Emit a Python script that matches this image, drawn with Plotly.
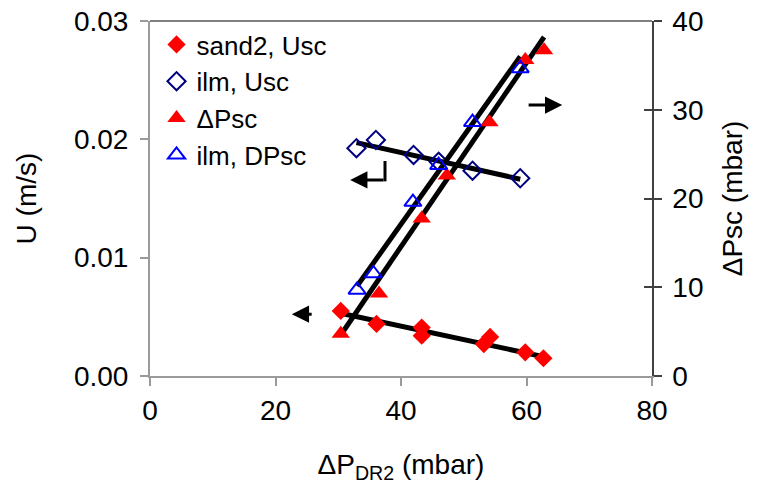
import plotly.graph_objects as go

# ---- data ----
sand_x = [30.4, 36.1, 43.3, 43.3, 53.2, 54.2, 59.8, 62.7]
sand_U = [0.0055, 0.0044, 0.0041, 0.0034, 0.0027, 0.0033, 0.0020, 0.0015]

ilmU_x = [32.9, 36.0, 42.0, 46.0, 51.4, 59.0]
ilmU_U = [0.01925, 0.01995, 0.01868, 0.0181, 0.01735, 0.01671]

dpsc_x = [30.4, 36.5, 43.3, 47.3, 54.1, 59.8, 62.8]
dpsc_P = [4.75, 9.3, 17.75, 22.6, 28.6, 35.6, 36.7]

ilmP_x = [33.0, 35.6, 41.9, 46.0, 51.4, 59.0]
ilmP_P = [9.7, 11.55, 19.6, 23.75, 28.6, 34.65]

# trendline end points
tr_sand_x = [30.4, 62.7]
tr_sand_U = [0.0053, 0.00163]
tr_ilmU_x = [32.9, 59.0]
tr_ilmU_U = [0.01972, 0.01663]
tr_dpsc_x = [30.4, 62.8]
tr_dpsc_P = [4.62, 38.2]
tr_ilmP_x = [33.0, 59.0]
tr_ilmP_P = [10.14, 36.0]

x_ticks = [0, 20, 40, 60, 80]
yl_ticks = [0.0, 0.01, 0.02, 0.03]
yr_ticks = [0, 10, 20, 30, 40]

FONT = "Liberation Sans, Arial, sans-serif"
FS = 28
LFS = 26
AXGRAY = "#9a9a9a"

fig = go.Figure()

line_style = dict(color="black", width=5)
fig.add_trace(go.Scatter(x=tr_sand_x, y=tr_sand_U, mode="lines", line=line_style,
                         showlegend=False, yaxis="y"))
fig.add_trace(go.Scatter(x=tr_ilmU_x, y=tr_ilmU_U, mode="lines", line=line_style,
                         showlegend=False, yaxis="y"))
fig.add_trace(go.Scatter(x=tr_dpsc_x, y=tr_dpsc_P, mode="lines", line=line_style,
                         showlegend=False, yaxis="y2"))
fig.add_trace(go.Scatter(x=tr_ilmP_x, y=tr_ilmP_P, mode="lines", line=line_style,
                         showlegend=False, yaxis="y2"))

fig.add_trace(go.Scatter(x=sand_x, y=sand_U, mode="markers", name="sand2, Usc",
                         marker=dict(symbol="diamond", size=14, color="#ff0000"),
                         yaxis="y"))
fig.add_trace(go.Scatter(x=ilmU_x, y=ilmU_U, mode="markers", name="ilm, Usc",
                         marker=dict(symbol="diamond-open", size=14, color="#000080",
                                     line=dict(width=2, color="#000080")),
                         yaxis="y"))
fig.add_trace(go.Scatter(x=dpsc_x, y=dpsc_P, mode="markers", name="ΔPsc",
                         marker=dict(symbol="triangle-up", size=16, color="#ff0000"),
                         yaxis="y2"))
fig.add_trace(go.Scatter(x=ilmP_x, y=ilmP_P, mode="markers", name="ilm, DPsc",
                         marker=dict(symbol="triangle-up-open", size=15, color="#0000ff",
                                     line=dict(width=2, color="#0000ff")),
                         yaxis="y2"))

fig.update_layout(
    width=766, height=484,
    margin=dict(l=150, r=114, t=21, b=108, autoexpand=False),
    paper_bgcolor="white", plot_bgcolor="white",
    font=dict(family=FONT, size=FS, color="black"),
    showlegend=True,
    legend=dict(x=0.013, y=1.0, xanchor="left", yanchor="top",
                font=dict(family=FONT, size=LFS, color="black"),
                bgcolor="rgba(0,0,0,0)", tracegroupgap=0, traceorder="normal",
                itemwidth=30),
    xaxis=dict(range=[0, 80], tickvals=x_ticks, showgrid=False, zeroline=False,
               automargin=False,
               showline=True, linecolor=AXGRAY, linewidth=2,
               ticks="outside", ticklen=8, tickwidth=2, tickcolor=AXGRAY,
               ticklabelstandoff=0, ticklabeloverflow="allow",
               tickfont=dict(family=FONT, size=FS),
               title=dict(text="ΔP<sub>DR2</sub> (mbar)", font=dict(family=FONT, size=FS),
                          standoff=41)),
    yaxis=dict(range=[0, 0.03], tickvals=yl_ticks, tickformat=".2f", showgrid=False,
               automargin=False,
               zeroline=False, showline=True, linecolor=AXGRAY, linewidth=2,
               ticks="outside", ticklen=8, tickwidth=2, tickcolor=AXGRAY,
               ticklabelstandoff=6, ticklabeloverflow="allow",
               tickfont=dict(family=FONT, size=FS),
               title=dict(text="U (m/s)", font=dict(family=FONT, size=FS), standoff=29)),
    yaxis2=dict(range=[0, 40], tickvals=yr_ticks, overlaying="y", side="right",
                automargin=False,
                showgrid=False, zeroline=False, showline=True, linecolor="#404040",
                linewidth=1.5, ticks="outside", ticklen=8, tickwidth=1.5,
                ticklabelstandoff=5, ticklabeloverflow="allow",
                tickcolor="#404040", tickfont=dict(family=FONT, size=FS),
                title=dict(text="ΔPsc (mbar)", font=dict(family=FONT, size=FS), standoff=20)),
    yaxis3=dict(range=[0, 40], tickvals=yr_ticks, overlaying="y", side="right",
                automargin=False,
                showgrid=False, zeroline=False, showline=False, showticklabels=False,
                ticks="inside", ticklen=8, tickwidth=1.5, tickcolor="#404040"),
)

# dummy trace to activate yaxis3 (inside ticks of right axis)
fig.add_trace(go.Scatter(x=[None], y=[None], yaxis="y3", showlegend=False, hoverinfo="skip"))

# top border line
fig.add_shape(type="line", xref="paper", yref="paper", x0=0, x1=1, y0=1, y1=1,
              line=dict(color="black", width=1.2))

# arrows pointing to axes
arrow = dict(showarrow=True, arrowhead=2, arrowsize=1.15, arrowwidth=3, arrowcolor="black",
             text="", xref="x", yref="y", axref="x", ayref="y")
fig.add_annotation(x=65.7, y=0.0229, ax=60.1, ay=0.0229, **arrow)
fig.add_annotation(x=22.6, y=0.00522, ax=26.0, ay=0.00522, **arrow)
fig.add_annotation(x=31.9, y=0.01657, ax=37.45, ay=0.01657, **arrow)
fig.add_shape(type="line", xref="x", yref="y", x0=37.45, x1=37.45, y0=0.01817, y1=0.01645,
              line=dict(color="black", width=3))

# remove the default page margin so the figure fills the window exactly
fig.write_html("out.html",
               config={"displayModeBar": False},
               post_script="document.body.style.margin='0';document.body.style.overflow='hidden';")
